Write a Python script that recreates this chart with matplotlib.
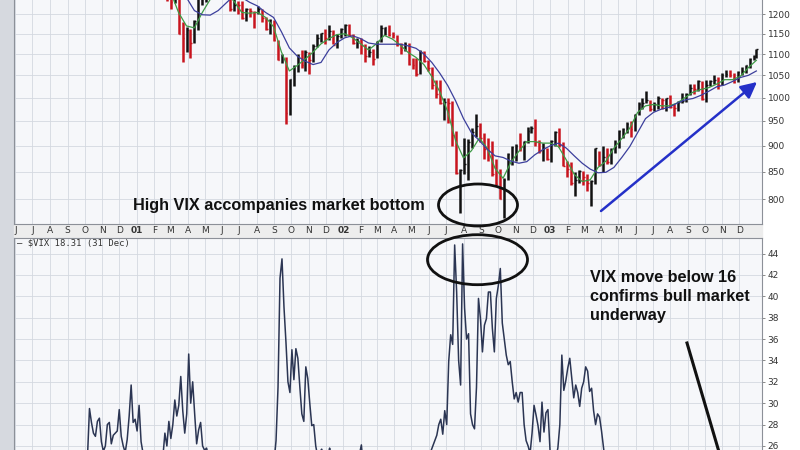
import numpy as np
import pandas as pd
import matplotlib
matplotlib.use('Agg')
import matplotlib.pyplot as plt
import matplotlib.dates as mdates
from matplotlib.ticker import NullLocator, NullFormatter
from matplotlib.patches import Ellipse, Rectangle, FancyArrowPatch
from matplotlib.lines import Line2D

# S&P 500 weekly bars (week ending Friday, Feb 2001 .. 31 Dec 2003)
spx_high = [
    # 2001
    1376, 1355, 1330, 1302, 1254, 1268, 1248, 1180, 1168, 1162,
    1185, 1253, 1260, 1268, 1268, 1296, 1315, 1278, 1286, 1264,
    1240, 1236, 1237, 1218, 1216, 1210, 1223, 1215, 1192, 1188,
    1185, 1135, 1100, 1092, 1041, 1075, 1100, 1110, 1110, 1104,
    1124, 1150, 1152, 1163, 1173, 1160, 1150, 1164,
    # 2002
    1176, 1174, 1150, 1140, 1140, 1125, 1120, 1112, 1132, 1172,
    1168, 1173, 1155, 1148, 1127, 1130, 1128, 1090, 1090, 1110,
    1108, 1085, 1070, 1040, 1040, 1000, 998, 993, 930, 855,
    915, 913, 935, 965, 945, 925, 915, 910, 875, 856,
    838, 885, 900, 904, 925, 910, 937, 940, 954, 912,
    905, 895,
    # 2003
    911, 930, 935, 907, 870, 868, 850, 853, 852, 845,
    835, 896, 890, 900, 895, 895, 912, 932, 936, 948,
    950, 965, 990, 1000, 1015, 995, 990, 1003, 1000, 1000,
    1005, 985, 992, 1010, 1010, 1030, 1030, 1040, 1036, 1040,
    1040, 1050, 1045, 1055, 1062, 1063, 1055, 1060, 1070, 1075,
    1090, 1098, 1112,
]
spx_low = [
    1340, 1310, 1294, 1237, 1215, 1230, 1150, 1081, 1105, 1091,
    1126, 1160, 1225, 1232, 1240, 1242, 1272, 1246, 1255, 1208,
    1208, 1200, 1188, 1183, 1192, 1165, 1200, 1180, 1160, 1150,
    1132, 1085, 1078, 944, 962, 1026, 1057, 1068, 1060, 1054,
    1080, 1116, 1130, 1125, 1135, 1124, 1115, 1140,
    1145, 1145, 1125, 1115, 1100, 1080, 1094, 1075, 1090, 1130,
    1148, 1145, 1140, 1120, 1100, 1108, 1075, 1065, 1048, 1052,
    1080, 1060, 1020, 998, 985, 953, 946, 900, 845, 776,
    845, 835, 895, 918, 908, 875, 870, 842, 825, 800,
    768, 835, 862, 870, 890, 872, 905, 925, 900, 885,
    870, 872,
    869, 900, 898, 860, 840, 825, 806, 830, 826, 815,
    788, 828, 860, 850, 865, 865, 885, 895, 915, 925,
    918, 930, 962, 975, 988, 970, 972, 975, 975, 970,
    978, 960, 972, 988, 990, 1005, 1008, 1015, 995, 990,
    1025, 1030, 1018, 1028, 1045, 1045, 1032, 1035, 1050, 1055,
    1068, 1085, 1090,
]
spx_close = [
    1349, 1315, 1301, 1245, 1234, 1264, 1150, 1139, 1160, 1128,
    1183, 1242, 1253, 1266, 1245, 1291, 1277, 1260, 1264, 1214,
    1225, 1224, 1190, 1215, 1210, 1205, 1214, 1191, 1161, 1185,
    1134, 1085, 1092, 966, 1041, 1071, 1092, 1073, 1105, 1087,
    1120, 1139, 1151, 1139, 1158, 1123, 1144, 1162,
    1173, 1146, 1128, 1133, 1122, 1096, 1104, 1089, 1132, 1164,
    1166, 1148, 1147, 1122, 1111, 1125, 1076, 1073, 1054, 1106,
    1083, 1067, 1027, 1007, 989, 990, 989, 921, 847, 853,
    864, 908, 928, 940, 916, 893, 889, 846, 827, 800,
    835, 884, 897, 900, 894, 910, 930, 936, 907, 889,
    895, 875,
    909, 927, 901, 861, 856, 829, 834, 851, 841, 829,
    833, 895, 863, 878, 868, 893, 898, 930, 933, 944,
    933, 964, 987, 988, 995, 976, 985, 998, 994, 998,
    980, 977, 990, 993, 1008, 1021, 1018, 1036, 996, 1029,
    1038, 1039, 1028, 1051, 1053, 1050, 1035, 1058, 1061, 1074,
    1088, 1095, 1112,
]

# the two moving averages, read every two weeks
ma_green = [
    1340, 1310, 1260, 1205, 1170, 1165, 1205, 1240, 1265, 1260,
    1235, 1205, 1203, 1205, 1192, 1168, 1105, 1060, 1073, 1088,
    1105, 1125, 1138, 1148, 1150, 1140, 1125, 1110, 1125, 1146,
    1137, 1122, 1104, 1092, 1075, 1047, 1013, 970, 910, 876,
    890, 915, 895, 856, 838, 868, 889, 908, 908, 905,
    905, 898, 872, 845, 832, 835, 858, 870, 895, 914,
    935, 968, 982, 985, 982, 982, 988, 1000, 1012, 1018,
    1022, 1030, 1040, 1040, 1048, 1068, 1085,
]
ma_blue = [
    1330, 1300, 1275, 1255, 1245, 1210, 1199, 1198, 1210, 1230,
    1250, 1245, 1232, 1222, 1205, 1192, 1155, 1115, 1095, 1083,
    1075, 1080, 1110, 1128, 1140, 1145, 1138, 1127, 1124, 1124,
    1124, 1124, 1120, 1114, 1100, 1080, 1055, 1027, 993, 955,
    926, 910, 893, 880, 877, 870, 866, 869, 882, 892,
    900, 905, 895, 880, 866, 855, 848, 849, 858, 877,
    898, 926, 955, 968, 975, 979, 988, 995, 998, 1005,
    1014, 1024, 1028, 1036, 1045, 1050, 1060,
]

# $VIX, twice a week from June 2000 to 31 Dec 2003
vix_close = [
    20.5, 19.8, 21.2, 22.0, 21.4, 20.6, 19.9, 20.8, 21.7, 22.5,
    21.8, 20.9, 19.6, 18.7, 19.3, 20.2, 19.5, 18.9, 18.2, 17.8,
    17.4, 18.1, 17.9, 18.8, 18.3, 19.4, 20.7, 19.8, 20.5, 21.3,
    20.6, 21.9, 22.8, 21.7, 22.6,
    23.5, 25.0, 29.5, 28.2, 27.2, 26.9, 28.3, 28.6, 26.4, 25.5,
    26.0, 28.0, 28.2, 26.2, 27.0, 27.2, 27.4, 29.4, 26.9, 26.0,
    25.4, 26.6, 28.8, 31.7, 28.2, 28.5, 27.4, 29.8, 26.4, 25.3, 24.0,
    23.2, 24.1, 22.6, 23.5, 22.8, 23.9, 24.3,
    24.5, 25.0, 27.2, 26.0, 28.3, 26.7, 28.0, 30.3, 28.8, 29.8,
    32.5, 29.3, 27.2, 29.0, 34.6, 30.0, 32.0, 29.0, 26.2, 27.5,
    28.2, 26.0, 25.6, 25.8, 25.0, 24.0,
    23.4, 22.1, 21.5, 22.7, 21.9, 20.8, 20.2, 21.4, 20.6, 19.8,
    20.5, 21.3, 22.4, 21.7, 20.9, 21.8, 22.6, 21.5, 20.7, 19.9,
    20.8, 21.6, 22.3, 23.1, 22.5, 23.4, 24.2, 23.6, 22.9, 23.8,
    23.0, 24.5, 26.5, 31.5, 41.7, 43.5, 39.0, 35.7, 32.0, 31.0,
    35.0, 32.2, 35.1, 34.2, 31.5, 29.0, 28.3, 33.4, 32.3, 30.0,
    27.9, 28.0, 26.0, 25.0, 25.4, 25.7, 24.8, 25.4, 25.0, 25.8,
    25.0, 24.0,
    23.5, 24.2, 23.1, 22.8, 23.6, 24.4, 23.2, 22.5, 23.8, 24.6,
    23.9, 24.8, 25.2, 26.1, 24.0, 23.1, 22.4, 23.3, 22.7, 21.8,
    21.2, 20.6, 21.5, 20.8, 19.9, 20.7, 21.6, 20.9, 20.3, 21.4,
    22.3, 21.6, 20.8, 21.9, 22.7, 21.5, 20.9, 21.8, 22.6, 21.9,
    22.8, 23.6, 22.9, 23.8, 24.5, 23.7, 24.2,
    24.5, 25.5, 26.0, 26.5, 27.0, 28.0, 28.5, 27.1, 29.3, 28.0,
    33.9, 36.4, 35.5, 44.8, 40.4, 34.0, 31.7, 44.9, 38.9, 36.0,
    36.5, 29.0, 28.0, 27.6, 31.5, 39.8, 37.9, 34.8, 37.3, 37.9,
    40.4, 40.4, 37.0, 34.8, 39.8, 41.0, 42.6, 37.5, 36.0, 34.5,
    33.6, 33.9, 32.0, 30.4, 31.0, 30.1, 31.0, 31.0, 28.0, 26.5,
    26.0, 25.3, 27.2, 29.8, 28.9, 27.9, 26.4, 30.1, 27.3, 29.1,
    29.4, 25.6, 24.5, 24.0, 25.0, 25.8, 28.0, 34.5, 31.2, 32.1,
    33.3, 34.2, 32.4, 30.5, 31.7, 31.0, 29.7, 31.4, 32.0, 33.4,
    33.0, 31.1, 31.4, 29.3, 28.0, 29.0, 28.7, 27.4, 25.8, 24.5,
    24.0,
    23.5, 22.8, 23.9, 22.6, 21.8, 22.5, 21.4, 20.7, 21.3, 20.2,
    19.6, 20.4, 19.8, 21.0, 20.3, 19.5, 20.6, 21.4, 20.1, 19.4,
    20.2, 21.1, 21.9, 20.8, 19.9, 20.6, 21.5, 22.3, 21.2, 20.4,
    19.8, 20.7, 21.4, 20.6, 19.7, 19.2, 20.1, 19.4, 18.8, 19.6,
    20.3, 19.5, 18.9, 18.4, 19.2, 18.6, 17.9, 18.7, 19.5, 18.8,
    18.2, 17.6, 18.4, 17.8, 17.2, 16.9, 17.6, 18.3, 17.5, 16.8,
    16.4, 17.1, 16.6, 16.2, 17.0, 17.7, 17.2, 16.5, 16.9, 17.4,
    17.9, 18.6, 18.1, 17.6, 18.31,
]

month_labels = ['J', 'J', 'A', 'S', 'O', 'N', 'D',
                '01', 'F', 'M', 'A', 'M', 'J', 'J', 'A', 'S', 'O', 'N', 'D',
                '02', 'F', 'M', 'A', 'M', 'J', 'J', 'A', 'S', 'O', 'N', 'D',
                '03', 'F', 'M', 'A', 'M', 'J', 'J', 'A', 'S', 'O', 'N', 'D']
price_ticks = [800, 850, 900, 950, 1000, 1050, 1100, 1150, 1200]
vix_ticks = [26, 28, 30, 32, 34, 36, 38, 40, 42, 44]

spx_dates = pd.date_range('2001-02-02', periods=len(spx_close) - 1, freq='W-FRI')
spx_dates = spx_dates.append(pd.DatetimeIndex(['2003-12-31']))
ma_dates = pd.date_range('2001-02-02', '2003-12-31', periods=len(ma_green))
vix_dates = pd.date_range('2000-06-02', '2003-12-31', periods=len(vix_close))
month_dates = pd.date_range('2000-06-01', periods=len(month_labels), freq='MS')

W, H = 800, 450


def fx(px):
    return px / W


def fy(py):
    return 1 - py / H


fig = plt.figure(figsize=(8, 4.5), dpi=100)
fig.patch.set_facecolor('white')

# grey strip on the left and the month row between the panels
fig.add_artist(Rectangle((0, 0), fx(13), 1, transform=fig.transFigure,
                         color='#d6d9df', zorder=0))
fig.add_artist(Rectangle((fx(14), fy(237.5)), fx(748), 13.5 / H,
                         transform=fig.transFigure, color='#ededed', zorder=0))

# panels, both reach past the edges of the picture
ax1 = fig.add_axes([fx(14), fy(224), fx(748), 340.9 / H])
ax2 = fig.add_axes([fx(14), fy(617), fx(748), 379.5 / H])

jan01 = mdates.date2num(pd.Timestamp('2001-01-01'))
grid_col = '#d4d8e0'
for ax in (ax1, ax2):
    ax.set_facecolor('#f6f7fa')
    ax.set_xlim(jan01 - 216.6, jan01 + 1104)
    ax.set_xticks(mdates.date2num(month_dates))
    ax.grid(True, color=grid_col, lw=0.6)
    ax.set_axisbelow(True)
    ax.yaxis.tick_right()
    ax.tick_params(axis='y', length=2.5, width=0.6, color='#777777',
                   labelsize=6.5, labelcolor='#333333', pad=1.5)
    for s in ax.spines.values():
        s.set_color('#8c9098')
        s.set_linewidth(0.8)

# price panel
d = mdates.date2num(spx_dates)
close = np.array(spx_close)
prev = np.r_[close[0], close[:-1]]
cols = np.where(close < prev, '#c8141e', '#111111')
ax1.vlines(d, spx_low, spx_high, colors=cols, lw=1.8, zorder=3)
ax1.hlines(close, d, d + 3, colors=cols, lw=1.0, zorder=3)
ax1.plot(ma_dates, ma_green, color='#3e9a45', lw=0.9, zorder=4)
ax1.plot(ma_dates, ma_blue, color='#3c3f9c', lw=0.9, zorder=4)
ax1.set_yscale('log')
ax1.set_ylim(758, 1600)
ax1.set_yticks(price_ticks)
ax1.set_yticklabels([str(v) for v in price_ticks])
ax1.yaxis.set_minor_locator(NullLocator())
ax1.yaxis.set_minor_formatter(NullFormatter())
ax1.set_xticklabels(month_labels)
ax1.tick_params(axis='x', length=0, pad=1.5, labelsize=6.5, labelcolor='#333333')
for lbl in ax1.get_xticklabels():
    if lbl.get_text().isdigit():
        lbl.set_fontweight('bold')

# VIX panel
ax2.plot(vix_dates, vix_close, color='#2b3553', lw=1.1, zorder=3)
ax2.set_ylim(10, 45.5)
ax2.set_yticks(vix_ticks)
ax2.set_yticklabels([str(v) for v in vix_ticks])
ax2.set_xticklabels([])
ax2.tick_params(axis='x', length=0)

fig.text(fx(17), fy(243), '\u2014 $VIX 18.31 (31 Dec)', family='DejaVu Sans Mono',
         fontsize=6.4, va='center', color='#333333')

# annotations
bold = dict(family='Liberation Sans', fontweight='bold', fontsize=11.7, color='#111111')
fig.text(fx(133), fy(210), 'High VIX accompanies market bottom', va='baseline', **bold)
for txt, base in [('VIX move below 16', 282), ('confirms bull market', 301), ('underway', 320)]:
    fig.text(fx(590), fy(base), txt, va='baseline', **bold)

fig.add_artist(Ellipse((fx(478), fy(205)), 79 / W, 42 / H, transform=fig.transFigure,
                       fill=False, ec='#111111', lw=2.0, zorder=10))
fig.add_artist(Ellipse((fx(477.5), fy(259.7)), 100 / W, 50 / H, transform=fig.transFigure,
                       fill=False, ec='#111111', lw=2.0, zorder=10))

fig.add_artist(FancyArrowPatch((fx(601), fy(211)), (fx(757), fy(82)), transform=fig.transFigure,
                               arrowstyle='-|>,head_length=0.6,head_width=0.3', mutation_scale=16,
                               color='#2430c8', lw=1.8, shrinkA=0, shrinkB=0, zorder=10))
fig.add_artist(Line2D([fx(687), fx(739)], [fy(343), fy(520)], transform=fig.transFigure,
                      color='#111111', lw=2.2, zorder=10))

fig.savefig('out.png', dpi=100)
